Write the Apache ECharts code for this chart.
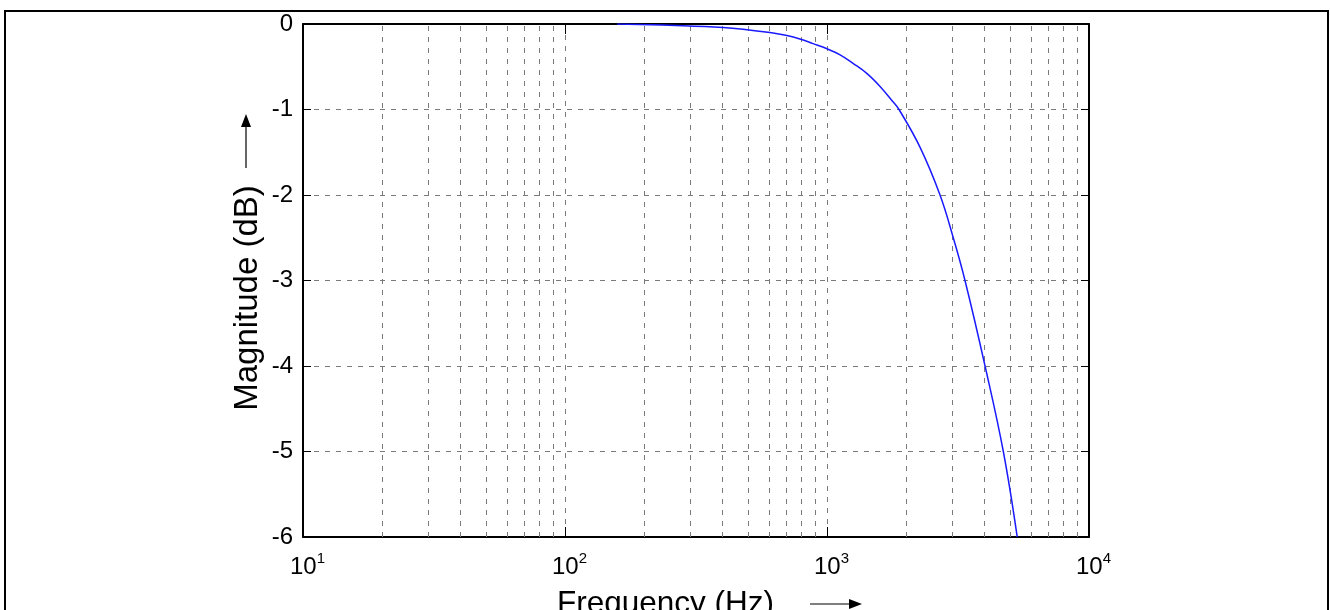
<!DOCTYPE html>
<html>
<head>
<meta charset="utf-8">
<script src="https://cdn.jsdelivr.net/npm/echarts@6/dist/echarts.min.js"></script>
<style>
html,body{margin:0;padding:0;background:#fff;}
#chart{width:1330px;height:610px;}
</style>
</head>
<body>
<div id="chart"></div>
<script>
// Data
var freqHz = [158, 282, 401, 478, 606, 703, 788, 885, 1000, 1122, 1257, 1422, 1594, 1786, 1883, 2264, 2700, 3027, 3363, 4011, 4710, 5322];
var magDb = [0, -0.02, -0.04, -0.06, -0.10, -0.135, -0.175, -0.23, -0.29, -0.36, -0.46, -0.58, -0.73, -0.91, -1.0, -1.44, -2.0, -2.49, -3.0, -4.0, -5.0, -6.0];
var minorFreqs = [20,30,40,50,60,70,80,90,200,300,400,500,600,700,800,900,2000,3000,4000,5000,6000,7000,8000,9000];
var yTicks = [0, -1, -2, -3, -4, -5, -6];
var xTitle = 'Frequency (Hz)';
var yTitle = 'Magnitude (dB)';

var FONT = '"Liberation Sans", Arial, sans-serif';
var GRID_COLOR = '#7a7a7a';
var DASH = [5, 6];

var chart = echarts.init(document.getElementById('chart'), null, {renderer: 'canvas'});

var points = freqHz.map(function (f, i) { return [f, magDb[i]]; });

var option = {
  animation: false,
  backgroundColor: '#fff',
  grid: {left: 303, top: 24, right: 241, bottom: 73, containLabel: false},
  xAxis: [{
    type: 'log', logBase: 10, min: 10, max: 10000,
    axisLine: {show: true, onZero: false, lineStyle: {color: '#000', width: 2}},
    axisTick: {show: true, inside: true, length: 10, lineStyle: {color: '#000', width: 1}},
    splitLine: {show: true, lineStyle: {color: GRID_COLOR, width: 1, type: DASH}},
    axisLabel: {
      margin: 14,
      padding: [0, 0, 0, 9],
      formatter: function (v) {
        var e = Math.round(Math.log10(v));
        return '{b|10}{s|' + e + '}';
      },
      rich: {
        b: {fontFamily: FONT, fontSize: 24, color: '#000', lineHeight: 28, verticalAlign: 'bottom'},
        s: {fontFamily: FONT, fontSize: 15, color: '#000', lineHeight: 28, verticalAlign: 'top'}
      }
    }
  }, {
    type: 'log', logBase: 10, min: 10, max: 10000, position: 'top',
    axisLine: {show: true, onZero: false, lineStyle: {color: '#000', width: 2}},
    axisTick: {show: true, inside: true, length: 10, lineStyle: {color: '#000', width: 1}},
    axisLabel: {show: false},
    splitLine: {show: false}
  }],
  yAxis: [{
    type: 'value', min: -6, max: 0, interval: 1,
    axisLine: {show: true, onZero: false, lineStyle: {color: '#000', width: 2}},
    axisTick: {show: true, inside: true, length: 8, lineStyle: {color: '#000', width: 1}},
    splitLine: {show: true, lineStyle: {color: GRID_COLOR, width: 1, type: DASH}},
    axisLabel: {
      margin: 10, fontFamily: FONT, fontSize: 24, color: '#000',
      formatter: function (v) { return yTicks.indexOf(v) >= 0 ? String(v) : ''; }
    }
  }, {
    type: 'value', min: -6, max: 0, interval: 1, position: 'right',
    axisLine: {show: true, onZero: false, lineStyle: {color: '#000', width: 2}},
    axisTick: {show: true, inside: true, length: 8, lineStyle: {color: '#000', width: 1}},
    axisLabel: {show: false},
    splitLine: {show: false}
  }],
  series: [{
    type: 'line',
    xAxisIndex: 0, yAxisIndex: 0,
    data: [],
    silent: true,
    markLine: {
      silent: true,
      symbol: ['none', 'none'],
      label: {show: false},
      lineStyle: {color: GRID_COLOR, width: 1, type: DASH},
      emphasis: {disabled: true},
      data: minorFreqs.map(function (f) { return {xAxis: f}; })
    }
  }, {
    type: 'line',
    xAxisIndex: 0, yAxisIndex: 0,
    data: points,
    smooth: 0.4,
    showSymbol: false,
    symbol: 'none',
    clip: true,
    lineStyle: {color: '#1a1aff', width: 1.5},
    z: 5
  }],
  graphic: [
    {type: 'rect', shape: {x: 5, y: 11, width: 1323, height: 700}, style: {fill: 'none', stroke: '#000', lineWidth: 2}, z: 100, silent: true},
    {type: 'text', x: 248, y: 298, rotation: Math.PI / 2,
      style: {text: yTitle, font: '33px ' + FONT, fill: '#000', textAlign: 'center', textVerticalAlign: 'middle'}},
    {type: 'line', shape: {x1: 246, y1: 168, x2: 246, y2: 124}, style: {stroke: '#000', lineWidth: 1.2}},
    {type: 'polygon', shape: {points: [[246, 114], [241, 127], [251, 127]]}, style: {fill: '#000'}},
    {type: 'text', x: 557, y: 588,
      style: {text: xTitle, font: '31.5px ' + FONT, fill: '#000', textAlign: 'left', textVerticalAlign: 'top'}},
    {type: 'line', shape: {x1: 810, y1: 604, x2: 852, y2: 604}, style: {stroke: '#000', lineWidth: 1.2}},
    {type: 'polygon', shape: {points: [[862, 604], [849, 599], [849, 609]]}, style: {fill: '#000'}}
  ]
};
chart.setOption(option);
</script>
</body>
</html>
